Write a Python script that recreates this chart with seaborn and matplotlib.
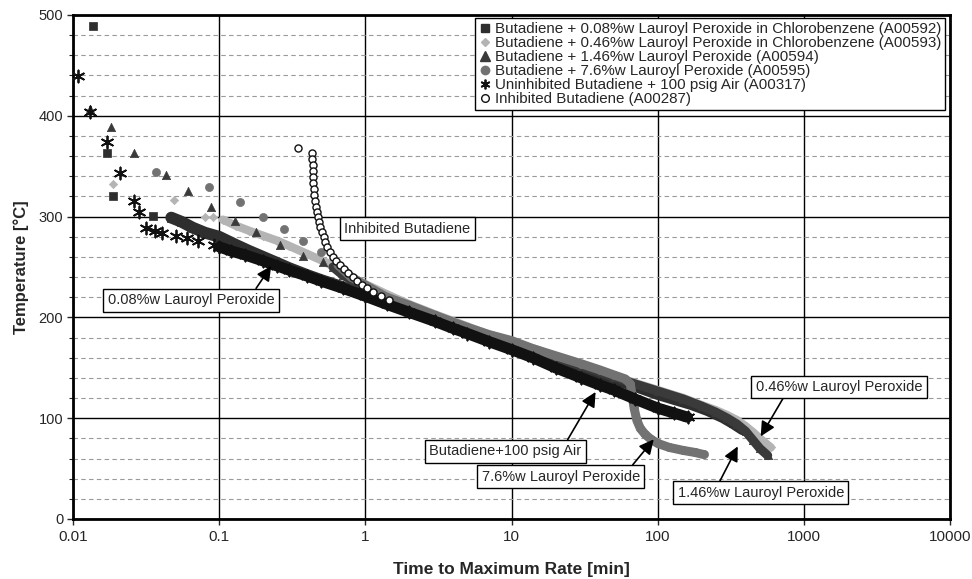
import matplotlib.pyplot as plt
import numpy as np
import seaborn as sns
from matplotlib.lines import Line2D
from matplotlib.ticker import MultipleLocator, NullLocator

# ---- data (x = time to max rate [min], t = temperature [C]) ----
# Butadiene + 0.08%w LP in chlorobenzene (A00592) - squares
sq_x = [0.0137, 0.0171, 0.0188, 0.0353, 0.047, 0.055, 0.066, 0.08, 0.1, 0.13, 0.16, 0.2,
        0.25, 0.3, 0.4, 0.5, 0.7, 1.0, 1.4, 2, 3, 4, 5, 7, 10, 14, 20, 30, 40, 50, 70,
        100, 130, 170, 220, 280, 330, 382]
sq_t = [489, 363, 320, 301, 299, 295, 289, 284, 280, 272, 266, 260,
        254, 249, 242, 237, 230, 222, 215, 207, 198, 191, 186, 178, 172, 165, 158, 149, 143, 139, 132,
        124, 119, 114, 108, 101, 95, 89]
sq_dense = 4

# Butadiene + 0.46%w LP in chlorobenzene (A00593) - light diamonds
di_x = [0.0188, 0.049, 0.08, 0.091, 0.106, 0.13, 0.16, 0.2, 0.25, 0.3, 0.4, 0.55, 0.7, 1,
        1.5, 2, 3, 5, 7, 10, 15, 20, 30, 50, 70, 100, 150, 200, 250, 300, 350, 400, 450,
        500, 594]
di_t = [332, 316, 300, 300, 297, 291, 286, 281, 276, 271, 263, 254, 244, 233,
        221, 213, 203, 191, 183, 176, 168, 161, 153, 142, 135, 128, 120, 113, 108, 103, 98, 92, 86,
        80, 71]
di_dense = 4

# Butadiene + 1.46%w LP (A00594) - triangles
tr_x = [0.013, 0.0182, 0.0262, 0.0434, 0.0613, 0.088, 0.129, 0.179, 0.262, 0.376, 0.515,
        0.6, 0.7, 1, 1.4, 2, 3, 5, 7, 10, 14, 20, 30, 50, 70, 100, 150, 200, 250, 300, 350,
        400, 450, 500, 566]
tr_t = [407, 389, 363, 341, 325, 310, 296, 285, 272, 261, 255,
        250, 242, 229, 218, 210, 200, 188, 181, 174, 167, 160, 152, 141, 134, 127, 119, 112, 106, 100, 94,
        87, 78, 70, 63]
tr_dense = 11

# Butadiene + 7.6%w LP (A00595) - grey circles
ci_x = [0.037, 0.0855, 0.139, 0.2, 0.279, 0.376, 0.5, 0.65, 0.8, 1, 1.4, 2, 3, 5, 7, 10,
        14, 20, 30, 40, 50, 60, 65, 67, 69, 72, 76, 82, 90, 100, 120, 150, 180, 206]
ci_t = [344, 329, 314, 300, 288, 276, 265, 252, 240, 232, 220, 212, 202, 190, 183, 177,
        169, 162, 154, 148, 143, 139, 134, 122, 110, 98, 90, 84, 79, 75, 71, 68, 66, 64]
ci_dense = 7

# Uninhibited butadiene + 100 psig air (A00317) - asterisks
ai_x = [0.0108, 0.013, 0.0171, 0.021, 0.0262, 0.0283, 0.0316, 0.0364, 0.0407, 0.0507, 0.06,
        0.0716, 0.092, 0.1, 0.12, 0.15, 0.2, 0.25, 0.3, 0.4, 0.5, 0.7, 1, 1.4, 2, 3, 4, 5, 7,
        10, 14, 20, 30, 40, 50, 70, 100, 130, 160]
ai_t = [439, 404, 374, 343, 315, 305, 289, 286, 284, 281, 279,
        276, 272, 270, 266, 262, 256, 251, 247, 241, 236, 229, 221, 213, 205, 196, 189, 184, 176,
        168, 160, 150, 140, 133, 128, 119, 110, 105, 101]
ai_dense = 13

# Inhibited butadiene (A00287) - open circles
ih_x = [0.347, 0.434, 0.435, 0.436, 0.437, 0.439, 0.441, 0.444, 0.448, 0.453, 0.459, 0.466,
        0.474, 0.483, 0.493, 0.505, 0.518, 0.533, 0.55, 0.575, 0.6, 0.63, 0.67, 0.71, 0.76,
        0.82, 0.88, 0.95, 1.03, 1.13, 1.27, 1.45]
ih_t = [368, 363, 357, 351, 345, 339, 333, 327, 321, 315, 310, 305,
        300, 295, 290, 285, 280, 275, 270, 265, 260, 256, 252, 248, 244,
        240, 236, 232, 229, 225, 221, 217]

labels = [
    "Butadiene + 0.08%w Lauroyl Peroxide in Chlorobenzene (A00592)",
    "Butadiene + 0.46%w Lauroyl Peroxide in Chlorobenzene (A00593)",
    "Butadiene + 1.46%w Lauroyl Peroxide (A00594)",
    "Butadiene + 7.6%w Lauroyl Peroxide (A00595)",
    "Uninhibited Butadiene + 100 psig Air (A00317)",
    "Inhibited Butadiene (A00287)",
]
x_ticks = [0.01, 0.1, 1, 10, 100, 1000, 10000]
x_ticklabels = ["0.01", "0.1", "1", "10", "100", "1000", "10000"]

sns.set_style("white")
plt.rcParams["font.family"] = ["Liberation Sans", "DejaVu Sans"]

fig = plt.figure(figsize=(9.72, 5.79), dpi=100)
ax = fig.add_axes([73 / 972, 1 - 519 / 579, 877 / 972, 504 / 579])

ASTER = (6, 2, 0)
styles = [
    (sq_x, sq_t, sq_dense, "#2e2e2e", "s", 30, 8.5),
    (di_x, di_t, di_dense, "#b4b4b4", "D", 18, 6),
    (tr_x, tr_t, tr_dense, "#3a3a3a", "^", 36, 6.5),
    (ci_x, ci_t, ci_dense, "#727272", "o", 34, 6.5),
    (ai_x, ai_t, ai_dense, "#111111", ASTER, 75, 8),
]
for i, (x, t, start, col, mk, size, lw) in enumerate(styles):
    sns.lineplot(x=x[start:], y=t[start:], ax=ax, color=col, lw=lw, sort=False,
                 estimator=None, zorder=3 + i)
    if mk == ASTER:
        sns.scatterplot(x=x, y=t, ax=ax, marker=mk, s=size, color=col, linewidth=1.3,
                        zorder=3 + i)
    else:
        sns.scatterplot(x=x, y=t, ax=ax, marker=mk, s=size, color=col, edgecolor=col,
                        linewidth=0.5, zorder=3 + i)

sns.scatterplot(x=ih_x, y=ih_t, ax=ax, marker="o", s=26, color="white", edgecolor="#111111",
                linewidth=1.0, zorder=9)

ax.set_xscale("log")
ax.set_xlim(0.01, 10000)
ax.set_ylim(0, 500)
ax.set_xticks(x_ticks)
ax.set_xticklabels(x_ticklabels, fontsize=11)
ax.xaxis.set_minor_locator(NullLocator())
ax.yaxis.set_major_locator(MultipleLocator(100))
ax.yaxis.set_minor_locator(MultipleLocator(20))
ax.tick_params(axis="y", which="major", length=4, width=1, pad=3, labelsize=10.5, left=True)
ax.tick_params(axis="y", which="minor", length=3, width=0.8, left=True)
ax.tick_params(axis="x", which="major", length=4, width=1, pad=4, bottom=True)

ax.grid(which="major", color="black", lw=1.0, ls="-", zorder=1)
ax.grid(which="minor", axis="y", color="#9a9a9a", lw=0.8, ls=(0, (4, 3)), zorder=1)
ax.set_axisbelow(True)
for sp in ax.spines.values():
    sp.set_linewidth(2)
    sp.set_color("black")

ax.set_xlabel("Time to Maximum Rate [min]", fontsize=12.5, fontweight="bold", labelpad=13)
ax.set_ylabel("Temperature [\u00b0C]", fontsize=12, fontweight="bold", labelpad=7)

# legend
handles = [
    Line2D([], [], ls="none", marker="s", ms=6, color="#2e2e2e"),
    Line2D([], [], ls="none", marker="D", ms=4.5, color="#b4b4b4"),
    Line2D([], [], ls="none", marker="^", ms=6.5, color="#3a3a3a"),
    Line2D([], [], ls="none", marker="o", ms=6, color="#727272"),
    Line2D([], [], ls="none", marker=ASTER, ms=7, mew=1.3, color="#111111"),
    Line2D([], [], ls="none", marker="o", ms=5.5, mfc="white", mec="#111111", mew=1),
]
leg = ax.legend(handles, labels, loc="upper right", bbox_to_anchor=(0.994, 0.994),
                fontsize=10.9, frameon=True, fancybox=False, framealpha=1, edgecolor="black",
                borderpad=0.25, labelspacing=0.0, handlelength=0.8, handletextpad=0.25,
                borderaxespad=0)
leg.get_frame().set_linewidth(1)
leg.set_zorder(20)

# callouts
box = dict(boxstyle="square,pad=0.3", fc="white", ec="black", lw=1)


def callout(text, xy, xytext, relpos):
    ax.annotate(text, xy=xy, xytext=xytext, ha="center", va="center", fontsize=10.5,
                bbox=box, zorder=15,
                arrowprops=dict(arrowstyle="-|>", color="black", lw=1.2, mutation_scale=22,
                                relpos=relpos, shrinkA=0, shrinkB=0))


callout("0.08%w Lauroyl Peroxide", (0.227, 251), (0.0643, 217), (0.87, 1))
ax.text(1.94, 288, "Inhibited Butadiene", ha="center", va="center", fontsize=10.5,
        bbox=box, zorder=15)
callout("Butadiene+100 psig Air", (37.6, 126), (9.1, 67), (0.89, 1))
callout("7.6%w Lauroyl Peroxide", (94, 79), (21.7, 42), (0.93, 1))
callout("0.46%w Lauroyl Peroxide", (507, 82), (1738, 131), (0.18, 0))
callout("1.46%w Lauroyl Peroxide", (353, 72), (507, 26), (0.24, 1))

fig.savefig("out.png", dpi=100)
